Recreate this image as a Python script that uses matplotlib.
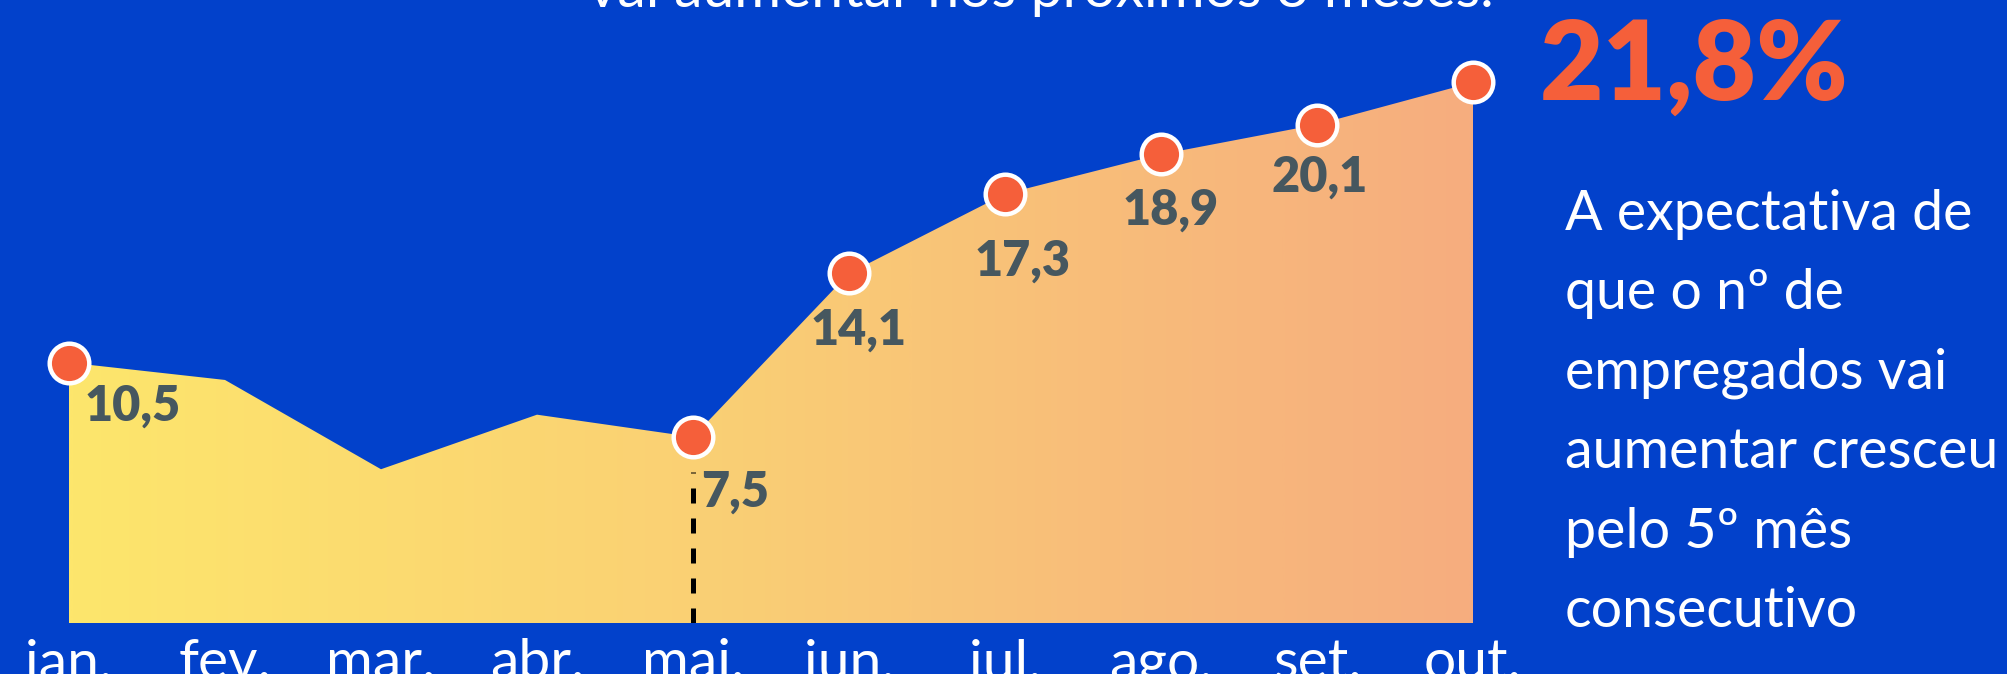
import numpy as np
import matplotlib
matplotlib.use("Agg")
import matplotlib.pyplot as plt
from matplotlib.patches import Polygon
from matplotlib.colors import LinearSegmentedColormap

months = ["jan.", "fev.", "mar.", "abr.", "mai.", "jun.", "jul.", "ago.", "set.", "out."]
values = [10.5, 9.8, 6.2, 8.4, 7.5, 14.1, 17.3, 18.9, 20.1, 21.8]
marked = [0, 4, 5, 6, 7, 8, 9]          # months with a dot
labelled = [0, 4, 5, 6, 7, 8]           # months with a value label
headline = "21,8%"
title_tail = "vai aumentar nos próximos 3 meses."
note_lines = ["A expectativa de", "que o nº de", "empregados vai",
              "aumentar cresceu", "pelo 5º mês", "consecutivo"]

BLUE = "#0241CB"
ORANGE = "#F55F3A"
GREY = "#46575F"

W, H = 2008, 674
fig = plt.figure(figsize=(W / 100, H / 100), dpi=100, facecolor=BLUE)
ax = fig.add_axes([69 / W, 51 / H, 1404 / W, 623 / H])
ax.set_facecolor(BLUE)
ax.set_xlim(0, len(months) - 1)
ax.set_ylim(0, 623 / 24.8)
ax.axis("off")

x = np.arange(len(months))

# gradient area
cmap = LinearSegmentedColormap.from_list(
    "grad", [(0, "#FDE66C"), (0.45, "#FAD074"), (0.75, "#F8BC7A"), (1, "#F6AD7F")])
verts = [(x[0], 0)] + list(zip(x, values)) + [(x[-1], 0)]
area = Polygon(verts, closed=True, facecolor="none", edgecolor="none")
ax.add_patch(area)
grad = np.linspace(0, 1, 512).reshape(1, -1)
im = ax.imshow(grad, cmap=cmap, aspect="auto", extent=[x[0], x[-1], 0, max(values)],
               origin="lower", zorder=1)
im.set_clip_path(area)

# dashed marker line at mai.
ax.vlines(4, 0, values[4] - 1.4, colors="black", linewidth=3.6,
          linestyles=(0, (3, 3)), zorder=2)

ax.plot(x[marked], np.array(values)[marked], "o", ms=28.5, mfc=ORANGE, mec="white",
        mew=3.2, zorder=4, clip_on=False)

offsets = {0: (16, -44, "left"), 4: (8, -55, "left"), 5: (10, -57, "center"),
           6: (18, -67, "center"), 7: (10, -56, "center"), 8: (3, -53, "center")}
for i in labelled:
    dx, dy, ha = offsets[i]
    ax.annotate(f"{values[i]:.1f}".replace(".", ","), (x[i], values[i]),
                xytext=(dx, dy), textcoords="offset pixels", ha=ha, va="center",
                fontsize=35, fontweight="heavy", family="Lato", color=GREY, zorder=5)

for i, m in enumerate(months):
    ax.annotate(m, (x[i], 0), xytext=(0, -56), textcoords="offset pixels",
                ha="center", va="baseline", fontsize=41, color="white",
                family="Lato", annotation_clip=False)

fig.text(588 / W, 1 - 7 / H, title_tail, ha="left", va="baseline", fontsize=41,
         color="white", family="Lato")

fig.text(1540 / W, 1 - 100 / H, headline, ha="left", va="baseline", fontsize=79,
         color=ORANGE, family="Lato", fontweight="heavy")

for k, line in enumerate(note_lines):
    fig.text(1565 / W, 1 - (230 + k * 79.4) / H, line, ha="left", va="baseline",
             fontsize=40, color="white", family="Lato")

fig.savefig("out.png", dpi=100, facecolor=BLUE)
